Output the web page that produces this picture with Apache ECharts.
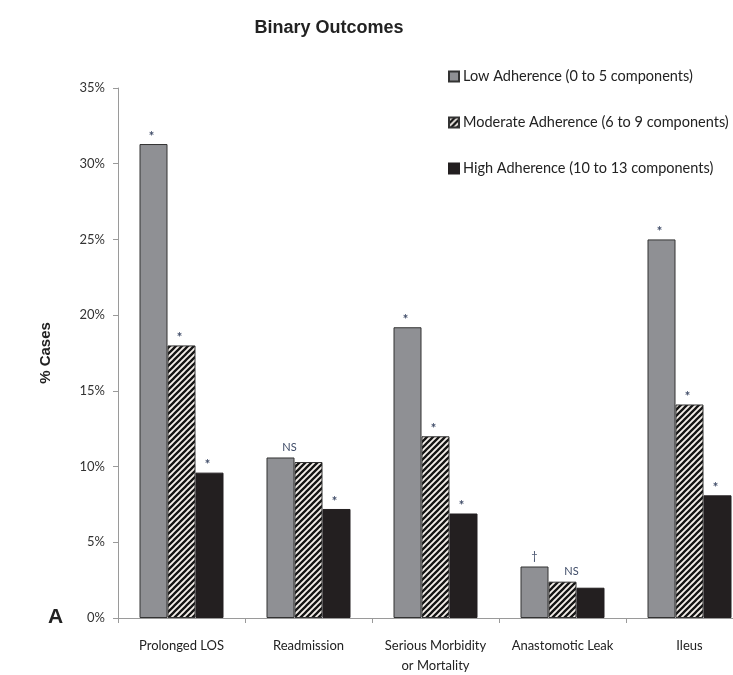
<!DOCTYPE html>
<html>
<head>
<meta charset="utf-8">
<script src="https://cdn.jsdelivr.net/npm/echarts@6/dist/echarts.min.js"></script>
<style>
  html, body { margin: 0; padding: 0; background: #fff; }
  #chart { width: 733px; height: 675px; }
</style>
</head>
<body>
<div id="chart"></div>
<script>
// Outcome categories and % of cases per adherence group
const categories = ['Prolonged LOS', 'Readmission', 'Serious Morbidity\nor Mortality', 'Anastomotic Leak', 'Ileus'];
const lowValues = [31.3, 10.6, 19.2, 3.4, 25.0];
const moderateValues = [18.0, 10.3, 12.0, 2.4, 14.1];
const highValues = [9.6, 7.2, 6.9, 2.0, 8.1];

// Significance markers shown above each bar
const lowMarks = ['*', 'NS', '*', '\u2020', '*'];
const moderateMarks = ['*', '', '*', 'NS', '*'];
const highMarks = ['*', '*', '*', '', '*'];

const seriesNames = [
  'Low Adherence (0 to 5 components)',
  'Moderate Adherence (6 to 9 components)',
  'High Adherence (10 to 13 components)'
];
const yTicks = [0, 5, 10, 15, 20, 25, 30, 35];

// Diagonal hatch fill for the moderate group
function makeHatch() {
  const c = document.createElement('canvas');
  const s = 6;
  c.width = s; c.height = s;
  const g = c.getContext('2d');
  g.fillStyle = '#f4efea';
  g.fillRect(0, 0, s, s);
  g.strokeStyle = '#141414';
  g.lineWidth = 2.3;
  g.beginPath();
  g.moveTo(-1, 1); g.lineTo(1, -1);
  g.moveTo(0, s); g.lineTo(s, 0);
  g.moveTo(s - 1, s + 1); g.lineTo(s + 1, s - 1);
  g.stroke();
  return c;
}

const font = 'Lato, "Open Sans", sans-serif';

function withMarks(values, marks, offsetX) {
  return values.map((v, i) => ({
    value: v,
    label: {
      show: marks[i] !== '',
      formatter: marks[i],
      fontSize: marks[i] === '*' ? 13 : 11,
      fontWeight: marks[i] === '*' ? 'bold' : 'normal',
      offset: marks[i] === 'NS' ? [offsetX, 0] : (marks[i] === '*' ? [-2, 4] : [0, 0])
    }
  }));
}

const labelStyle = {
  position: 'top',
  distance: 5,
  fontFamily: font,
  fontSize: 11,
  color: '#3d4a66'
};

const chart = echarts.init(document.getElementById('chart'), null, { renderer: 'canvas' });
chart.setOption({
  backgroundColor: '#ffffff',
  animation: false,
  title: [
    {
      text: 'Binary Outcomes',
      left: 324, top: 14, textAlign: 'center',
      textStyle: { fontFamily: 'Liberation Sans, Arial, sans-serif', fontWeight: 'bold', fontSize: 18, color: '#222' }
    },
    {
      text: 'A',
      left: 43, top: 602,
      textStyle: { fontFamily: 'Liberation Sans, Arial, sans-serif', fontWeight: 'bold', fontSize: 21, color: '#222' }
    }
  ],
  legend: {
    orient: 'vertical',
    left: 443, top: 64,
    itemWidth: 10, itemHeight: 10,
    itemGap: 31,
    icon: 'rect',
    textStyle: { fontFamily: font, fontSize: 14.5, color: '#222', padding: [0, 0, 0, -1] },
    data: seriesNames
  },
  grid: { left: 118, top: 88, width: 635, height: 530, outerBoundsMode: 'none', containLabel: false },
  xAxis: {
    type: 'category',
    data: categories,
    axisLine: { lineStyle: { color: '#9a9a9a', width: 1 } },
    axisTick: { show: true, length: 5, lineStyle: { color: '#9a9a9a' } },
    axisLabel: { fontFamily: font, fontSize: 13, color: '#222', margin: 18, lineHeight: 20, interval: 0 }
  },
  yAxis: {
    type: 'value',
    min: 0, max: 35, interval: 5,
    name: '% Cases',
    nameLocation: 'middle',
    nameRotate: 90,
    nameGap: 65,
    nameTextStyle: { fontFamily: 'Liberation Sans, Arial, sans-serif', fontWeight: 'bold', fontSize: 15, color: '#222' },
    axisLine: { show: true, lineStyle: { color: '#9a9a9a', width: 1 } },
    axisTick: { show: true, length: 5, lineStyle: { color: '#9a9a9a' } },
    splitLine: { show: false },
    axisLabel: {
      fontFamily: font, fontSize: 13, color: '#333', margin: 13,
      formatter: v => yTicks.includes(v) ? v + '%' : ''
    }
  },
  series: [
    {
      name: seriesNames[0], type: 'bar', barWidth: 28, barGap: '0%',
      itemStyle: { color: '#8f9094', borderColor: '#333', borderWidth: 1 },
      label: Object.assign({ show: true }, labelStyle),
      data: withMarks(lowValues, lowMarks, 9)
    },
    {
      name: seriesNames[1], type: 'bar', barWidth: 28, barGap: '0%',
      itemStyle: { color: { image: makeHatch(), repeat: 'repeat' }, borderColor: '#333', borderWidth: 1 },
      label: Object.assign({ show: true }, labelStyle),
      data: withMarks(moderateValues, moderateMarks, 9)
    },
    {
      name: seriesNames[2], type: 'bar', barWidth: 28, barGap: '0%',
      itemStyle: { color: '#231f20', borderColor: '#231f20', borderWidth: 1 },
      label: Object.assign({ show: true }, labelStyle),
      data: withMarks(highValues, highMarks, 0)
    }
  ]
});
</script>
</body>
</html>
